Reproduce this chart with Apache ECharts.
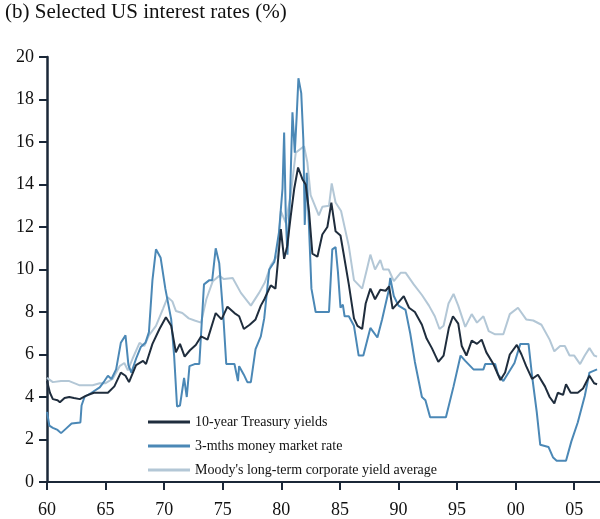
<!DOCTYPE html>
<html>
<head>
<meta charset="utf-8">
<script src="https://cdn.jsdelivr.net/npm/echarts@6/dist/echarts.min.js"></script>
<style>
  html, body { margin: 0; padding: 0; background: #fff; }
  #main { width: 600px; height: 519px; }
</style>
</head>
<body>
<div id="main"></div>
<script>
// tick labels of the x axis (years)
var yearTicks = [1960, 1965, 1970, 1975, 1980, 1985, 1990, 1995, 2000, 2005];

var seriesNames = [
    '10-year Treasury yields',
    '3-mths money market rate',
    "Moody's long-term corporate yield average"
];

// [year, %]
var treasury = [
    [1960.0, 4.75], [1960.25, 4.2], [1960.5, 3.9], [1960.9, 3.85], [1961.1, 3.75], [1961.5, 3.95],
    [1961.9, 4.0], [1962.3, 3.95], [1962.8, 3.9], [1963.3, 4.05], [1964.0, 4.2], [1964.6, 4.2],
    [1965.2, 4.2], [1965.75, 4.5], [1966.3, 5.15], [1966.7, 5.0], [1967.0, 4.7], [1967.6, 5.5],
    [1968.2, 5.7], [1968.45, 5.55], [1969.0, 6.5], [1969.6, 7.2], [1970.15, 7.75], [1970.6, 7.35],
    [1971.0, 6.1], [1971.35, 6.5], [1971.75, 5.9], [1972.2, 6.2], [1972.7, 6.45], [1973.15, 6.85],
    [1973.7, 6.7], [1974.4, 7.95], [1974.9, 7.65], [1975.4, 8.25], [1976.0, 7.95], [1976.4, 7.8],
    [1976.8, 7.2], [1977.3, 7.4], [1977.8, 7.65], [1978.25, 8.3], [1978.55, 8.6], [1979.1, 9.25],
    [1979.5, 9.1], [1979.96, 11.9], [1980.24, 10.5], [1980.5, 11.1], [1980.8, 12.5], [1981.1, 13.8],
    [1981.43, 14.8], [1981.8, 14.25], [1982.08, 14.0], [1982.37, 12.7], [1982.65, 10.75], [1983.08, 10.6],
    [1983.5, 11.65], [1983.93, 12.0], [1984.27, 13.15], [1984.63, 11.8], [1985.05, 11.6], [1985.3, 10.8],
    [1985.76, 9.3], [1986.2, 7.7], [1986.5, 7.35], [1986.9, 7.2], [1987.2, 8.4], [1987.6, 9.1],
    [1988.0, 8.6], [1988.45, 9.05], [1988.9, 9.0], [1989.2, 9.2], [1989.5, 8.15], [1990.0, 8.45],
    [1990.45, 8.75], [1990.9, 8.2], [1991.4, 8.0], [1992.0, 7.4], [1992.4, 6.75], [1992.85, 6.3],
    [1993.4, 5.65], [1993.85, 5.95], [1994.3, 7.25], [1994.65, 7.8], [1995.1, 7.45], [1995.4, 6.4],
    [1995.8, 5.95], [1996.25, 6.65], [1996.7, 6.5], [1997.1, 6.7], [1997.5, 6.1], [1998.1, 5.55],
    [1998.7, 4.8], [1999.1, 5.15], [1999.5, 6.0], [2000.1, 6.45], [2000.5, 6.0], [2000.9, 5.45],
    [2001.4, 4.85], [2001.9, 5.05], [2002.5, 4.5], [2002.9, 4.0], [2003.3, 3.7], [2003.6, 4.2],
    [2004.05, 4.1], [2004.3, 4.6], [2004.7, 4.2], [2005.3, 4.2], [2005.75, 4.4], [2006.3, 5.0],
    [2006.7, 4.65], [2006.95, 4.6]
];

var moneyMarket = [
    [1960.0, 3.3], [1960.2, 2.65], [1960.5, 2.55], [1960.9, 2.45], [1961.2, 2.3], [1961.6, 2.5],
    [1962.1, 2.75], [1962.85, 2.8], [1962.95, 3.6], [1963.2, 4.0], [1963.8, 4.2], [1964.5, 4.45],
    [1964.9, 4.75], [1965.2, 5.0], [1965.5, 4.85], [1965.9, 5.3], [1966.3, 6.55], [1966.7, 6.9],
    [1966.95, 5.5], [1967.2, 5.15], [1967.6, 5.8], [1968.0, 6.35], [1968.4, 6.55], [1968.7, 7.05],
    [1969.0, 9.5], [1969.3, 10.95], [1969.7, 10.55], [1970.1, 9.1], [1970.6, 7.65], [1970.85, 5.95],
    [1971.1, 3.55], [1971.35, 3.6], [1971.7, 4.9], [1971.93, 4.0], [1972.16, 5.45], [1972.6, 5.55],
    [1973.0, 5.55], [1973.4, 9.3], [1973.86, 9.5], [1974.1, 9.5], [1974.4, 11.0], [1974.7, 10.3],
    [1975.05, 7.8], [1975.3, 5.55], [1976.0, 5.55], [1976.3, 4.75], [1976.4, 5.45], [1976.8, 5.05],
    [1977.1, 4.7], [1977.4, 4.7], [1977.8, 6.25], [1978.25, 6.85], [1978.54, 7.7], [1978.97, 10.0],
    [1979.4, 10.35], [1979.8, 11.75], [1980.1, 13.8], [1980.24, 16.45], [1980.38, 12.5], [1980.52, 10.7],
    [1980.75, 13.5], [1980.95, 17.4], [1981.15, 15.5], [1981.3, 17.1], [1981.46, 19.0], [1981.7, 18.3],
    [1981.88, 16.1], [1982.0, 12.1], [1982.17, 14.55], [1982.37, 11.9], [1982.57, 9.1], [1982.93, 8.0],
    [1984.07, 8.0], [1984.35, 10.95], [1984.63, 11.05], [1984.83, 9.9], [1985.05, 8.2], [1985.25, 8.35],
    [1985.4, 7.8], [1985.76, 7.8], [1986.2, 7.35], [1986.6, 5.95], [1987.0, 5.95], [1987.6, 7.25],
    [1988.2, 6.8], [1988.6, 7.65], [1989.16, 9.0], [1989.3, 9.6], [1989.6, 8.75], [1990.0, 8.3],
    [1990.6, 8.1], [1991.0, 7.0], [1991.4, 5.65], [1992.0, 4.0], [1992.3, 3.85], [1992.7, 3.05],
    [1994.05, 3.05], [1994.7, 4.5], [1995.3, 5.95], [1995.7, 5.7], [1996.4, 5.3], [1997.25, 5.3],
    [1997.4, 5.55], [1998.25, 5.55], [1998.5, 5.05], [1998.95, 4.75], [1999.4, 5.15], [1999.9, 5.6],
    [2000.4, 6.5], [2001.1, 6.5], [2001.4, 5.0], [2001.8, 3.3], [2002.1, 1.75], [2002.8, 1.65],
    [2003.2, 1.15], [2003.5, 1.0], [2004.3, 1.0], [2004.75, 1.9], [2005.3, 2.8], [2005.9, 4.05],
    [2006.3, 5.15], [2006.95, 5.3]
];

var moodys = [
    [1960.0, 4.9], [1960.5, 4.7], [1961.2, 4.75], [1961.9, 4.75], [1962.8, 4.55], [1963.9, 4.55],
    [1964.5, 4.65], [1965.0, 4.65], [1965.6, 4.85], [1966.2, 5.45], [1966.6, 5.6], [1966.9, 5.25],
    [1967.3, 5.8], [1967.9, 6.55], [1968.3, 6.4], [1968.7, 6.9], [1969.3, 7.35], [1969.9, 8.15],
    [1970.3, 8.7], [1970.7, 8.5], [1971.0, 8.05], [1971.55, 7.95], [1972.1, 7.7], [1972.6, 7.6],
    [1973.15, 7.5], [1973.6, 8.6], [1974.15, 9.45], [1974.7, 9.7], [1975.1, 9.55], [1975.85, 9.6],
    [1976.55, 8.9], [1977.4, 8.3], [1978.1, 8.9], [1978.6, 9.4], [1979.1, 10.2], [1979.67, 10.65],
    [1979.96, 12.75], [1980.38, 12.2], [1980.8, 13.5], [1981.23, 15.5], [1981.94, 15.8], [1982.22, 15.05],
    [1982.5, 13.5], [1983.2, 12.55], [1983.5, 12.95], [1984.07, 13.0], [1984.3, 14.05], [1984.63, 13.15],
    [1985.1, 12.75], [1985.76, 11.1], [1986.2, 9.5], [1986.9, 9.1], [1987.3, 10.0], [1987.6, 10.7],
    [1988.0, 10.0], [1988.45, 10.45], [1988.7, 10.0], [1989.16, 10.0], [1989.6, 9.45], [1990.2, 9.85],
    [1990.6, 9.85], [1991.3, 9.3], [1992.0, 8.8], [1992.6, 8.3], [1993.1, 7.8], [1993.5, 7.2],
    [1993.85, 7.35], [1994.27, 8.4], [1994.7, 8.85], [1995.1, 8.3], [1995.7, 7.3], [1996.25, 7.9],
    [1996.7, 7.5], [1997.25, 7.8], [1997.7, 7.1], [1998.25, 6.95], [1998.95, 6.95], [1999.5, 7.9],
    [2000.2, 8.2], [2000.9, 7.65], [2001.5, 7.6], [2002.2, 7.4], [2002.9, 6.7], [2003.3, 6.15],
    [2003.8, 6.4], [2004.2, 6.4], [2004.6, 5.95], [2005.0, 5.95], [2005.5, 5.55], [2005.9, 5.95],
    [2006.3, 6.3], [2006.7, 5.95], [2006.95, 5.9]
];

var serifFont = "'Liberation Serif', 'Times New Roman', serif";
var axisColor = '#1b2838';

var myChart = echarts.init(document.getElementById('main'));

var option = {
    animation: false,
    backgroundColor: '#ffffff',
    title: {
        text: '(b) Selected US interest rates (%)',
        left: 0,
        top: -3,
        textStyle: {
            fontFamily: serifFont,
            fontSize: 21,
            fontWeight: 'normal',
            color: '#111111'
        }
    },
    legend: {
        orient: 'vertical',
        left: 143,
        top: 410,
        itemWidth: 42,
        itemHeight: 3,
        itemGap: 10,
        icon: 'rect',
        data: seriesNames,
        textStyle: {
            fontFamily: serifFont,
            fontSize: 14,
            lineHeight: 14,
            color: '#111111'
        }
    },
    grid: {
        left: 47,
        right: 0,
        top: 57,
        bottom: 36
    },
    xAxis: {
        type: 'value',
        min: 1960,
        max: 2007.2,
        axisLine: { lineStyle: { color: axisColor, width: 2 } },
        axisTick: {
            customValues: yearTicks,
            length: 8,
            lineStyle: { color: axisColor, width: 2 }
        },
        axisLabel: {
            customValues: yearTicks,
            margin: 19,
            fontFamily: serifFont,
            fontSize: 18,
            color: '#111111',
            formatter: function (v) {
                var s = String(Math.round(v) % 100);
                return s.length < 2 ? '0' + s : s;
            }
        },
        splitLine: { show: false }
    },
    yAxis: {
        type: 'value',
        min: 0,
        max: 20,
        interval: 2,
        axisLine: { show: true, lineStyle: { color: axisColor, width: 2.5 } },
        axisTick: { show: true, length: 8, lineStyle: { color: axisColor, width: 2 } },
        axisLabel: {
            margin: 13,
            fontFamily: serifFont,
            fontSize: 18,
            color: '#111111'
        },
        splitLine: { show: false }
    },
    series: [
        {
            name: seriesNames[2],
            type: 'line',
            data: moodys,
            showSymbol: false,
            lineStyle: { color: '#b3c7d6', width: 2 },
            itemStyle: { color: '#b3c7d6' },
            z: 2
        },
        {
            name: seriesNames[1],
            type: 'line',
            data: moneyMarket,
            showSymbol: false,
            lineStyle: { color: '#4b88b6', width: 2 },
            itemStyle: { color: '#4b88b6' },
            z: 3
        },
        {
            name: seriesNames[0],
            type: 'line',
            data: treasury,
            showSymbol: false,
            lineStyle: { color: '#1f2d3d', width: 2 },
            itemStyle: { color: '#1f2d3d' },
            z: 4
        }
    ]
};

myChart.setOption(option);
</script>
</body>
</html>
